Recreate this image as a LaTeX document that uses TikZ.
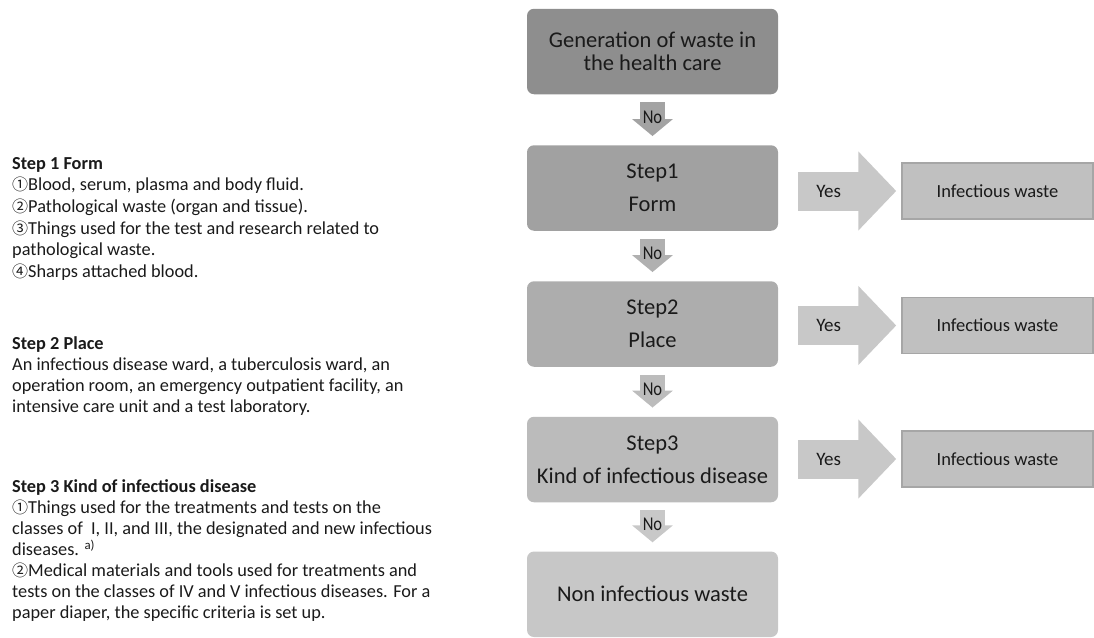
\documentclass[tikz,border=0pt]{standalone}
\usepackage{fontspec}
\setmainfont{Carlito}
\newfontfamily\cjkfont{Noto Sans CJK JP}
\usetikzlibrary{arrows.meta,calc}
\definecolor{cgen}{HTML}{8E8E8E}
\definecolor{cs1}{HTML}{A1A1A1}
\definecolor{cs2}{HTML}{ADADAD}
\definecolor{cs3}{HTML}{BBBBBB}
\definecolor{cnon}{HTML}{C7C7C7}
\definecolor{cno1}{HTML}{A3A3A3}
\definecolor{cno2}{HTML}{B0B0B0}
\definecolor{cno3}{HTML}{BCBCBC}
\definecolor{cno4}{HTML}{C8C8C8}
\definecolor{cyes}{HTML}{C8C8C8}
\definecolor{cinf}{HTML}{C0C0C0}
\definecolor{cinfb}{HTML}{A6A6A6}
\definecolor{txt}{HTML}{1A1A1A}
\newcommand\cn[1]{{\cjkfont\fontsize{16}{21}\selectfont #1}}
\begin{document}
\begin{tikzpicture}[x=1pt,y=-1pt,
  stepbox/.style={rounded corners=7pt, minimum width=251pt, minimum height=85.5pt, inner sep=0pt, align=center, text=txt, font=\fontsize{22.5}{33}\selectfont},
  infbox/.style={fill=cinf, draw=cinfb, line width=1.5pt, minimum width=191pt, minimum height=56pt, inner sep=0pt, text=txt, font=\fontsize{18.5}{20}\selectfont},
  noarrow/.style={line width=25pt, -{Triangle[length=17pt,width=40pt]}, shorten <=8pt, shorten >=9pt},
  yesarrow/.style={draw=cyes, line width=39pt, -{Triangle[length=38pt,width=77pt]}, shorten <=20pt, shorten >=5pt},
  nolabel/.style={text=txt, font=\fontsize{19.5}{19.5}\selectfont, inner sep=0pt},
  yeslabel/.style={text=txt, font=\fontsize{19}{19}\selectfont, inner sep=0pt},
  desc/.style={anchor=north west, align=left, inner sep=0pt, text=txt}
]
\useasboundingbox (0,0) rectangle (1094,637);

% main column
\node[stepbox, fill=cgen, font=\fontsize{22.5}{23.5}\selectfont] (gen) at (652.5,51.5) {Generation of waste in\\the health care};
\node[stepbox, fill=cs1] (s1) at (652.5,188) {Step1\\Form};
\node[stepbox, fill=cs2] (s2) at (652.5,324) {Step2\\Place};
\node[stepbox, fill=cs3] (s3) at (652.5,459.5) {Step3\\Kind of infectious disease};
\node[stepbox, fill=cnon] (non) at (652.5,594.25) {Non infectious waste};

% infectious boxes
\node[infbox] (inf1) at (997.5,191) {Infectious waste};
\node[infbox] (inf2) at (997.5,325.5) {Infectious waste};
\node[infbox] (inf3) at (997.5,459) {Infectious waste};

% No arrows
\draw[noarrow, draw=cno1] (gen.south) -- node[nolabel, pos=0.45] {\scalebox{0.85}[1]{No}} (s1.north);
\draw[noarrow, draw=cno2] (s1.south) -- node[nolabel, pos=0.45] {\scalebox{0.85}[1]{No}} (s2.north);
\draw[noarrow, draw=cno3] (s2.south) -- node[nolabel, pos=0.45] {\scalebox{0.85}[1]{No}} (s3.north);
\draw[noarrow, draw=cno4] (s3.south) -- node[nolabel, pos=0.45] {\scalebox{0.85}[1]{No}} (non.north);

% Yes arrows
\draw[yesarrow] (s1.east |- inf1.west) -- node[yeslabel, pos=0.41] {Yes} (inf1.west);
\draw[yesarrow] (s2.east |- inf2.west) -- node[yeslabel, pos=0.41] {Yes} (inf2.west);
\draw[yesarrow] (s3.east |- inf3.west) -- node[yeslabel, pos=0.41] {Yes} (inf3.west);

% description texts
\node[desc, font=\fontsize{18.3}{21.6}\selectfont] (d1) at (12,153.9) {\strut\textbf{Step 1 Form}\\
\cn{①}Blood, serum, plasma and body fluid.\\
\cn{②}Pathological waste (organ and tissue).\\
\cn{③}Things used for the test and research related to\\
pathological waste.\\
\cn{④}Sharps attached blood.};

\node[desc, font=\fontsize{18.3}{21}\selectfont] (d2) at (12,334.3) {\strut\textbf{Step 2 Place}\\
An infectious disease ward, a tuberculosis ward, an\\
operation room, an emergency outpatient facility, an\\
intensive care unit and a test laboratory.};

\node[desc, font=\fontsize{18.3}{21}\selectfont] (d3) at (12,478) {\strut\textbf{Step 3 Kind of infectious disease}\\
\cn{①}Things used for the treatments and tests on the\\
classes of~ I, II, and III, the designated and new infectious\\
diseases. \textsuperscript{a)}\\
\cn{②}Medical materials and tools used for treatments and\\
tests on the classes of IV and V infectious diseases. For a\\
paper diaper, the specific criteria is set up.};
\end{tikzpicture}
\end{document}
